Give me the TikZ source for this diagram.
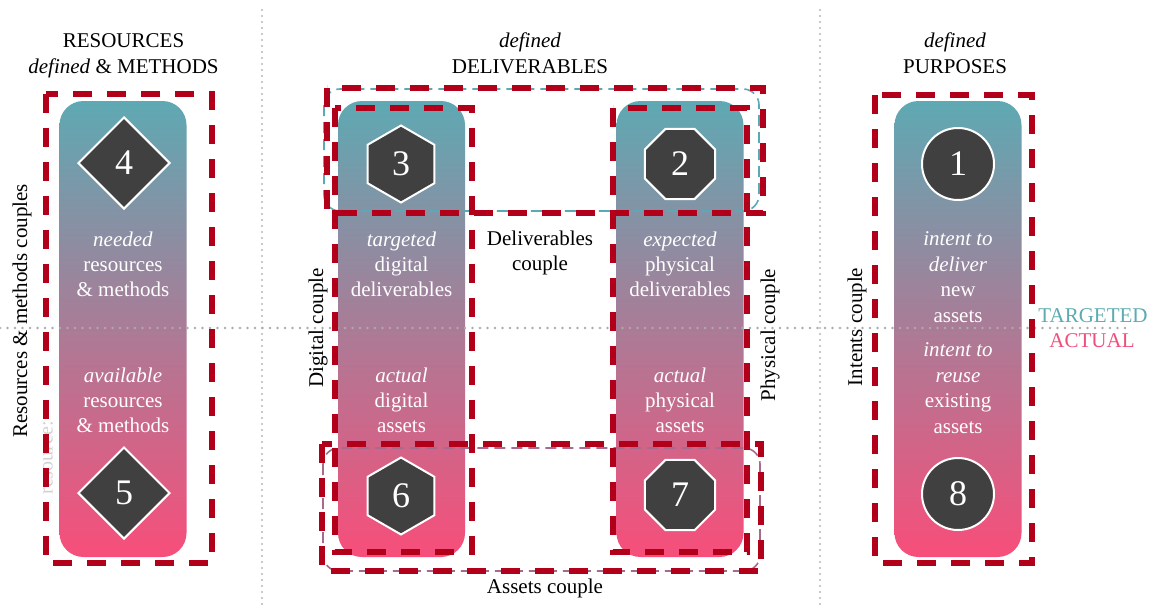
\documentclass[tikz,border=0pt]{standalone}
\usepackage{fontspec}
\setmainfont{Liberation Serif}
\usetikzlibrary{shapes.geometric}

\definecolor{pilTop}{HTML}{5EA9B3}
\definecolor{pilMid}{HTML}{A07D98}
\definecolor{pilBot}{HTML}{F74E7A}
\definecolor{dashRed}{HTML}{B3001A}
\definecolor{tealLine}{HTML}{5AAAB5}
\definecolor{mauveLine}{HTML}{A86A8C}
\definecolor{shapeGray}{HTML}{404040}
\definecolor{tgtTeal}{HTML}{5CABB0}
\definecolor{actPink}{HTML}{F04E7C}

\tikzset{
  pillar/.style={rectangle, rounded corners=24pt, minimum width=127pt,
    minimum height=456pt, inner sep=0pt, draw=none,
    top color=pilTop, middle color=pilMid, bottom color=pilBot},
  badge/.style={draw=white, line width=2pt, fill=shapeGray, text=white,
    inner sep=0pt, font=\fontsize{36}{36}\selectfont},
  dia/.style={badge, diamond, aspect=1, minimum width=92pt, minimum height=92pt},
  hexa/.style={badge, regular polygon, regular polygon sides=6,
    shape border rotate=30, minimum size=77pt},
  octa/.style={badge, regular polygon, regular polygon sides=8, minimum size=76pt},
  disc/.style={badge, circle, minimum size=72pt},
  ptext/.style={text=white, align=center, inner sep=0pt,
    font=\fontsize{21}{25}\selectfont},
  ptextwide/.style={ptext, font=\fontsize{21}{25.6}\selectfont},
  title/.style={anchor=base, inner sep=0pt, font=\fontsize{21}{25}\selectfont},
  label/.style={inner sep=0pt, align=center, font=\fontsize{21}{25}\selectfont},
  side/.style={label, rotate=90},
  redbox/.style={draw=dashRed, line width=5.5pt, dash pattern=on 19pt off 15pt},
  thinteal/.style={draw=tealLine, line width=1.6pt, rounded corners=16pt,
    dash pattern=on 11pt off 6pt},
  thinmauve/.style={draw=mauveLine, line width=1.6pt, rounded corners=16pt,
    dash pattern=on 11pt off 6pt},
  vdots/.style={draw=gray!55, line width=2.4pt, line cap=round,
    dash pattern=on 0pt off 6pt},
  hdots/.style={draw=gray!65, line width=2.8pt, line cap=round,
    dash pattern=on 0pt off 7.5pt}
}

\begin{document}
\begin{tikzpicture}[x=1pt, y=-1pt]
\useasboundingbox[fill=white] (0,0) rectangle (1155,610);

% column separators
\coordinate (sepAtop) at (262,10);
\coordinate (sepAbot) at (262,608);
\coordinate (sepBtop) at (820,10);
\coordinate (sepBbot) at (820,608);
\draw[vdots] (sepAtop) -- (sepAbot);
\draw[vdots] (sepBtop) -- (sepBbot);

% column headings
\node[title] (h1a) at (123.5,48) {RESOURCES};
\node[title] (h1b) at (123.5,73) {\textit{defined} \& METHODS};
\node[title] (h2a) at (530,48) {\textit{defined}};
\node[title] (h2b) at (530,73) {DELIVERABLES};
\node[title] (h3a) at (955,48) {\textit{defined}};
\node[title] (h3b) at (955,73) {PURPOSES};

% faint leftover label
\node[label, rotate=90, text=gray!35, font=\fontsize{20}{24}\selectfont]
  (ghost) at (48,458) {resource:};

% pillars
\node[pillar] (pRes) at (123,329) {};
\node[pillar] (pDig) at (401.5,329) {};
\node[pillar] (pPhy) at (680,329) {};
\node[pillar] (pPur) at (958,329) {};

% thin couple outlines
\draw[thinteal] (324,89) rectangle (759,211);
\draw[thinmauve] (323,448) rectangle (760,571);

% targeted / actual divider
\coordinate (divL) at (0,328);
\coordinate (divR) at (1132,328);
\draw[hdots] (divL) -- (divR);

% pillar captions
\node[ptext] (tRes1) at (123,264) {\textit{needed}\\resources\\\& methods};
\node[ptext] (tRes2) at (123,400) {\textit{available}\\resources\\\& methods};
\node[ptext] (tDig1) at (401.5,264) {\textit{targeted}\\digital\\deliverables};
\node[ptext] (tDig2) at (401.5,400) {\textit{actual}\\digital\\assets};
\node[ptext] (tPhy1) at (680,264) {\textit{expected}\\physical\\deliverables};
\node[ptext] (tPhy2) at (680,400) {\textit{actual}\\physical\\assets};
\node[ptextwide] (tPur1) at (958,277) {\textit{intent to}\\\textit{deliver}\\new\\assets};
\node[ptextwide] (tPur2) at (958,388) {\textit{intent to}\\\textit{reuse}\\existing\\assets};

% numbered markers
\node[dia]  (n4) at (124,163) {4};
\node[dia]  (n5) at (124,493) {5};
\node[hexa] (n3) at (401,164) {3};
\node[hexa] (n6) at (401,496) {6};
\node[octa] (n2) at (680,164) {2};
\node[octa] (n7) at (680,495) {7};
\node[disc] (n1) at (958,164) {1};
\node[disc] (n8) at (958,494) {8};

% couple frames
\draw[redbox] (46,94) rectangle (212,563);
\draw[redbox] (875,95) rectangle (1032,563);
\draw[redbox] (327,88) rectangle (763,213);
\draw[redbox] (322,444) rectangle (761,571);
\draw[redbox] (335,108) rectangle (472,552);
\draw[redbox] (613,108) rectangle (747,552);

% couple labels
\node[side] (lRes) at (22,311) {Resources \& methods couples};
\node[side] (lDig) at (318,328) {Digital couple};
\node[side] (lPhy) at (770,335) {Physical couple};
\node[side] (lInt) at (857,327) {Intents couple};
\node[label] (lDel) at (540,253) {Deliverables\\couple};
\node[label] (lAss) at (545,588) {Assets couple};

% legend
\node[label, text=tgtTeal] (lTgt) at (1093,316) {TARGETED};
\node[label, text=actPink] (lAct) at (1092,341) {ACTUAL};
\end{tikzpicture}
\end{document}
